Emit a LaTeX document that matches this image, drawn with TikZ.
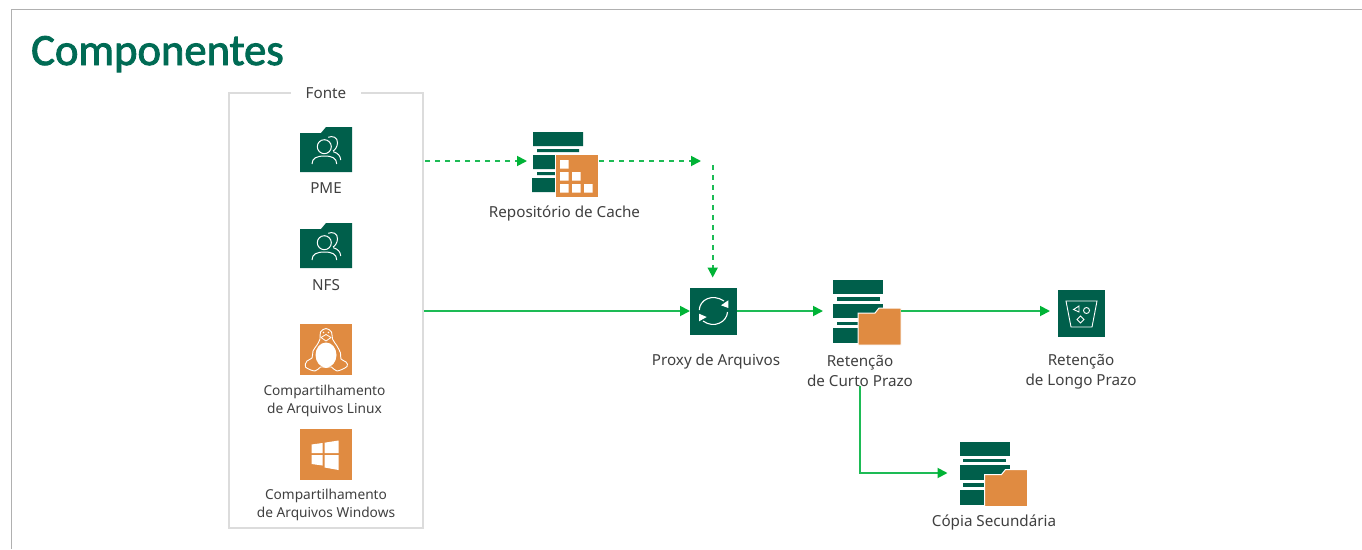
\documentclass[tikz,border=0pt]{standalone}
\usepackage{fontspec}
\setmainfont{Noto Sans}
\newfontfamily\titlefont[FakeBold=2]{Carlito}
\usetikzlibrary{arrows.meta}
\definecolor{vgreen}{HTML}{005F4B}
\definecolor{vtitle}{HTML}{006B54}
\definecolor{vorange}{HTML}{E08B41}
\definecolor{vflow}{HTML}{1DBB55}
\definecolor{vtip}{HTML}{00B336}
\definecolor{vtext}{HTML}{404040}
\definecolor{vbox}{HTML}{DCDCDC}
\definecolor{vframe}{HTML}{B0B0B0}
\tikzset{
  x=1pt,y=-1pt,
  flow/.style={draw=vflow,line width=1.8pt,-{Triangle[length=10pt,width=10pt,color=vtip,fill=vtip]}},
  flowdash/.style={flow,dash pattern=on 5pt off 5pt},
  lbl/.style={font=\fontsize{15.2}{20}\selectfont,text=vtext,align=center,inner sep=0pt},
  lblsmall/.style={font=\fontsize{13.7}{18}\selectfont,text=vtext,align=center,inner sep=0pt},
  iconbox/.style={draw=none,inner sep=0pt,outer sep=0pt,minimum width=#1},
  iconline/.style={draw=white,line width=1pt,fill=none},
  pics/folderusers/.style={code={
    \fill[vgreen] (0,6) -- (21,6) -- (26,0) -- (52,0) -- (52,45) -- (0,45) -- cycle;
    \draw[iconline] (24.3,19.7) circle (7);
    \draw[iconline] (12,37) .. controls (12,31) and (17,29) .. (24.5,29) .. controls (32,29) and (36.7,31) .. (36.7,37);
    \draw[iconline] (28.3,10.3) .. controls (32,8.5) and (38,10) .. (37.5,16) .. controls (37.2,20) and (35,23) .. (33,24);
    \draw[iconline] (33.3,24.7) .. controls (38,26) and (40.5,29) .. (40.7,33);
  }},
  pics/serverbars/.style={code={
    \fill[vgreen] (0,0) rectangle (50,14);
    \fill[vgreen] (3.5,17) rectangle (46.5,20.5);
    \fill[vgreen] (0,23.5) rectangle (50,38);
    \fill[vgreen] (3.5,41.5) rectangle (30,45);
    \fill[vgreen] (0,48) rectangle (30,63);
    \fill[vorange,draw=white,line width=1pt] (25,33) -- (42,33) -- (46,28) -- (68,28) -- (68,65) -- (25,65) -- cycle;
  }}
}
\begin{document}
\begin{tikzpicture}
\useasboundingbox (0,0) rectangle (1362,549);
\fill[white] (0,0) rectangle (1362,549);
% outer frame
\draw[vframe,line width=1.5pt] (11.5,549) -- (11.5,9.5) -- (1362,9.5);
\node[font=\titlefont\fontsize{44.6}{50}\selectfont,text=vtitle,inner sep=0pt,anchor=base west] (title) at (31,65) {Componentes};
% source box
\node[draw=vbox,line width=2pt,minimum width=194pt,minimum height=435pt,inner sep=0pt] (fonte) at (326,310.5) {};
\node[fill=white,lbl,minimum width=70pt,minimum height=10pt] (fontelbl) at (326,93) {Fonte};
% source icons
\node[iconbox=52pt,minimum height=45pt] (pme) at (326,149.5) {};
\pic at (300,127) {folderusers};
\node[lbl] (pmelbl) at (326,188) {PME};
\node[iconbox=52pt,minimum height=45pt] (nfs) at (326,245.5) {};
\pic at (300,223) {folderusers};
\node[lbl] (nfslbl) at (326,285) {NFS};
% linux
\fill[vorange] (300,324) rectangle (352,375);
\fill[white] (326,355) ellipse [x radius=10.5,y radius=12.5];
\draw[white,line width=.9pt,line join=round] plot[smooth cycle,tension=.6] coordinates {(326,328.5) (331.5,332) (332.5,339) (337,346) (340.5,353) (341,359) (346,362) (347,366.5) (337,371) (331.5,367) (326,367.5) (320.5,367) (315,371) (305.5,367) (307,361) (312,358) (313,351) (317,345) (320,339) (320.5,332)};
\fill[vorange] (321,337.5) -- (326,334.5) -- (331,337.5) -- (326,341) -- cycle;
\draw[white,line width=.8pt,line join=round] (321,337.5) -- (326,334.5) -- (331,337.5) -- (326,341) -- cycle;
\fill[white] (323.5,332.5) circle (.9) (328.5,332.5) circle (.9);
\node[iconbox=52pt,minimum height=51pt] (linux) at (326,349.5) {};
\node[lblsmall] (linuxlbl) at (324.5,400.5) {Compartilhamento\\de Arquivos Linux};
% windows
\node[fill=vorange,iconbox=52pt,minimum height=51pt] (win) at (326,454.5) {};
\fill[white] (311.5,444.5) -- (322.5,443) -- (322.5,453) -- (311.5,453) -- cycle
             (324.5,442.7) -- (338.5,440.5) -- (338.5,453) -- (324.5,453) -- cycle
             (311.5,455) -- (322.5,455) -- (322.5,465.5) -- (311.5,464) -- cycle
             (324.5,455) -- (338.5,455) -- (338.5,470) -- (324.5,467.5) -- cycle;
\node[lblsmall] (winlbl) at (326,504.5) {Compartilhamento\\de Arquivos Windows};
% cache repository
\node[iconbox=66pt,minimum height=38pt] (cache) at (565,161) {};
\fill[vgreen] (533,132) rectangle (583,146) (537,149) rectangle (579,152) (533,155) rectangle (556,169) (537,172) rectangle (556,175) (532,178) rectangle (556,192);
\fill[vorange,draw=white,line width=.8pt] (555,154) rectangle (598,197);
\fill[white] (560,160) rectangle (568.5,168.5) (560,172) rectangle (568.5,180.5) (572,172) rectangle (580.5,180.5) (560,184) rectangle (568.5,192.5) (572,184) rectangle (580.5,192.5) (584,184) rectangle (592.5,192.5);
\node[lbl] (cachelbl) at (564.5,213) {Repositório de Cache};
% proxy
\node[fill=vgreen,iconbox=47pt,minimum height=47pt] (proxy) at (713.5,311) {};
\draw[white,line width=1.1pt] (699.3,310) .. controls (699.5,300) and (712,293) .. (724,301);
\draw[white,line width=1.1pt] (727.5,312) .. controls (727,322) and (714,329) .. (703,321);
\fill[white] (728.3,300.3) -- (728.3,308) -- (721,305.3) -- cycle (699,313.7) -- (699,321.3) -- (706.7,317) -- cycle;
\node[lbl] (proxylbl) at (716,361.5) {Proxy de Arquivos};
% short-term retention
\node[iconbox=68pt,minimum height=63pt] (retshort) at (867,311) {};
\pic at (833,280) {serverbars};
\node[lbl] (retshortlbl) at (860,370.5) {Retenção\\de Curto Prazo};
% long-term retention
\node[fill=vgreen,iconbox=47pt,minimum height=47pt] (retlong) at (1081.5,313.5) {};
\draw[white,line width=.9pt] (1066,301) -- (1097,301) -- (1092,327) -- (1071,327) -- cycle;
\draw[white,line width=.9pt] (1079,306) -- (1073.5,309.5) -- (1079,312) -- cycle;
\draw[white,line width=.9pt] (1086.5,310.5) circle (3);
\draw[white,line width=.9pt] (1080.5,316) -- (1084,319.5) -- (1080.5,323) -- (1077,319.5) -- cycle;
\node[lbl] (retlonglbl) at (1081,372) {Retenção\\de Longo Prazo};
% secondary copy
\node[iconbox=68pt,minimum height=63pt] (copy) at (993.5,473) {};
\pic at (959.5,441.5) {serverbars};
\node[lbl] (copylbl) at (994,522) {Cópia Secundária};
% connectors
\coordinate (dashend) at (701,161);
\coordinate (dashstart) at (712.7,165);
\draw[flowdash,shorten <=1pt,shorten >=5pt] (fonte.east |- cache.west) -- (cache.west);
\draw[flowdash,shorten <=1pt] (cache.east) -- (dashend);
\draw[flowdash,shorten >=10pt] (dashstart) -- (dashstart |- proxy.north);
\draw[flow] (fonte.east |- proxy.west) -- (proxy.west);
\draw[flow,shorten >=10pt] (proxy.east) -- (proxy.east -| retshort.west);
\draw[flow,shorten >=8pt] (retshort.east) -- (retshort.east -| retlong.west);
\draw[flow,shorten >=12pt] (retshortlbl.south) -- (retshortlbl.south |- copy.west) -- (copy.west);
\end{tikzpicture}
\end{document}
